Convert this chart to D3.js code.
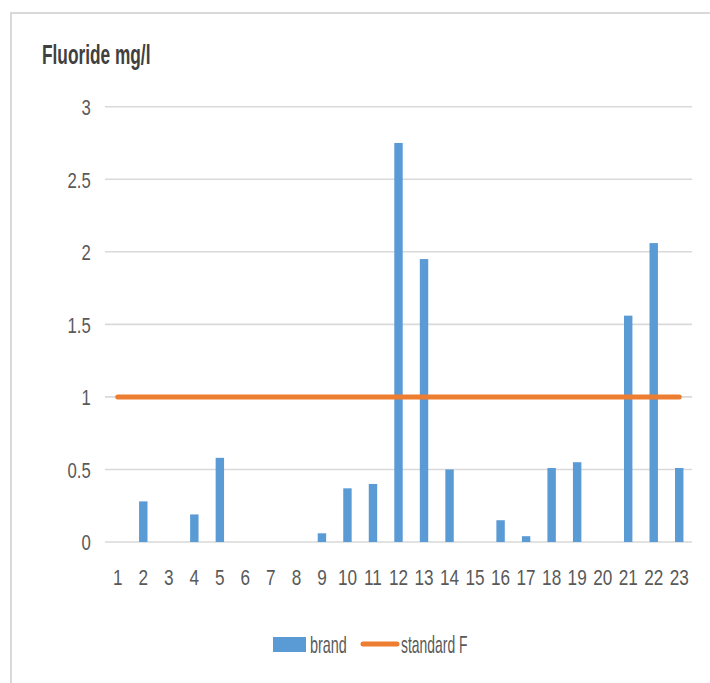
<!DOCTYPE html>
<html>
<head>
<meta charset="utf-8">
<script src="https://cdn.jsdelivr.net/npm/d3@7/dist/d3.min.js"></script>
<style>
  html, body { margin: 0; padding: 0; background: #fff; }
  svg { display: block; }
  text { font-family: "Liberation Sans Narrow", "Liberation Sans", sans-serif; fill: #595959; }
</style>
</head>
<body>
<svg id="chart" width="710" height="683"></svg>
<script>
// ---- data ----
const categories = ["1","2","3","4","5","6","7","8","9","10","11","12","13","14","15","16","17","18","19","20","21","22","23"];
const brand = [0, 0.28, 0, 0.19, 0.58, 0, 0, 0, 0.06, 0.37, 0.40, 2.75, 1.95, 0.50, 0, 0.15, 0.04, 0.51, 0.55, 0, 1.56, 2.06, 0.51];
const standardF = [1,1,1,1,1,1,1,1,1,1,1,1,1,1,1,1,1,1,1,1,1,1,1];
const yTicks = [0, 0.5, 1, 1.5, 2, 2.5, 3];
const seriesNames = ["brand", "standard F"];
const titleText = "Fluoride mg/l";

// ---- layout ----
const svg = d3.select("#chart");
const plot = { left: 105, right: 692, top: 106.7, bottom: 542 };
const barColor = "#5B9BD5";
const lineColor = "#ED7D31";
const gridColor = "#d9d9d9";

// frame border
svg.append("line").attr("x1", 10).attr("x2", 710).attr("y1", 13).attr("y2", 13)
  .attr("stroke", "#d9d9d9").attr("stroke-width", 2);
svg.append("line").attr("x1", 11).attr("x2", 11).attr("y1", 12).attr("y2", 683)
  .attr("stroke", "#d9d9d9").attr("stroke-width", 2);

const x = d3.scaleBand().domain(categories).range([plot.left, plot.right]).padding(0);
const y = d3.scaleLinear().domain([0, 3]).range([plot.bottom, plot.top]);

// gridlines
svg.append("g").selectAll("line").data(yTicks).join("line")
  .attr("x1", plot.left).attr("x2", plot.right)
  .attr("y1", d => y(d)).attr("y2", d => y(d))
  .attr("stroke", gridColor).attr("stroke-width", 1.6);

// y axis labels
const ySX = 0.76;
const yAxis = svg.append("g").attr("transform", `translate(${plot.left},0)`)
  .call(d3.axisLeft(y).tickValues(yTicks).tickSize(0).tickPadding(14).tickFormat(d3.format("")));
yAxis.select(".domain").remove();
yAxis.selectAll("text")
  .attr("x", -14.3 / ySX)
  .attr("transform", `scale(${ySX},1)`)
  .attr("dy", "0.36em")
  .style("font-size", "22px").style("fill", "#595959");

// x axis labels
const xSX = 0.78;
const xAxis = svg.append("g").attr("transform", `translate(0,${plot.bottom})`)
  .call(d3.axisBottom(x).tickSize(0).tickPadding(0));
xAxis.select(".domain").remove();
xAxis.selectAll(".tick text")
  .attr("y", 0).attr("dy", 0)
  .attr("transform", `translate(0,43) scale(${xSX},1)`)
  .style("font-size", "22px").style("fill", "#595959");

// bars
const barW = x.bandwidth() * 0.33;
svg.append("g").selectAll("rect").data(brand).join("rect")
  .attr("x", (d, i) => x(categories[i]) + (x.bandwidth() - barW) / 2)
  .attr("width", barW)
  .attr("y", d => y(d))
  .attr("height", d => y(0) - y(d))
  .attr("fill", barColor);

// standard line
const line = d3.line()
  .x((d, i) => x(categories[i]) + x.bandwidth() / 2)
  .y(d => y(d));
svg.append("path").datum(standardF)
  .attr("d", line).attr("fill", "none")
  .attr("stroke", lineColor).attr("stroke-width", 5).attr("stroke-linecap", "round");

// title
svg.append("text").text(titleText)
  .attr("transform", "translate(42,64) scale(0.64,1)")
  .style("font-size", "27px").style("font-weight", "bold").style("fill", "#404040");

// legend
const lg = svg.append("g");
lg.append("rect").attr("x", 273).attr("y", 637).attr("width", 33).attr("height", 15).attr("fill", barColor);
lg.append("text").text(seriesNames[0])
  .attr("transform", "translate(310,653) scale(0.60,1)").style("font-size", "24px");
lg.append("line").attr("x1", 363).attr("x2", 397).attr("y1", 644).attr("y2", 644)
  .attr("stroke", lineColor).attr("stroke-width", 5).attr("stroke-linecap", "round");
lg.append("text").text(seriesNames[1])
  .attr("transform", "translate(401,653) scale(0.58,1)").style("font-size", "24px");
</script>
</body>
</html>
